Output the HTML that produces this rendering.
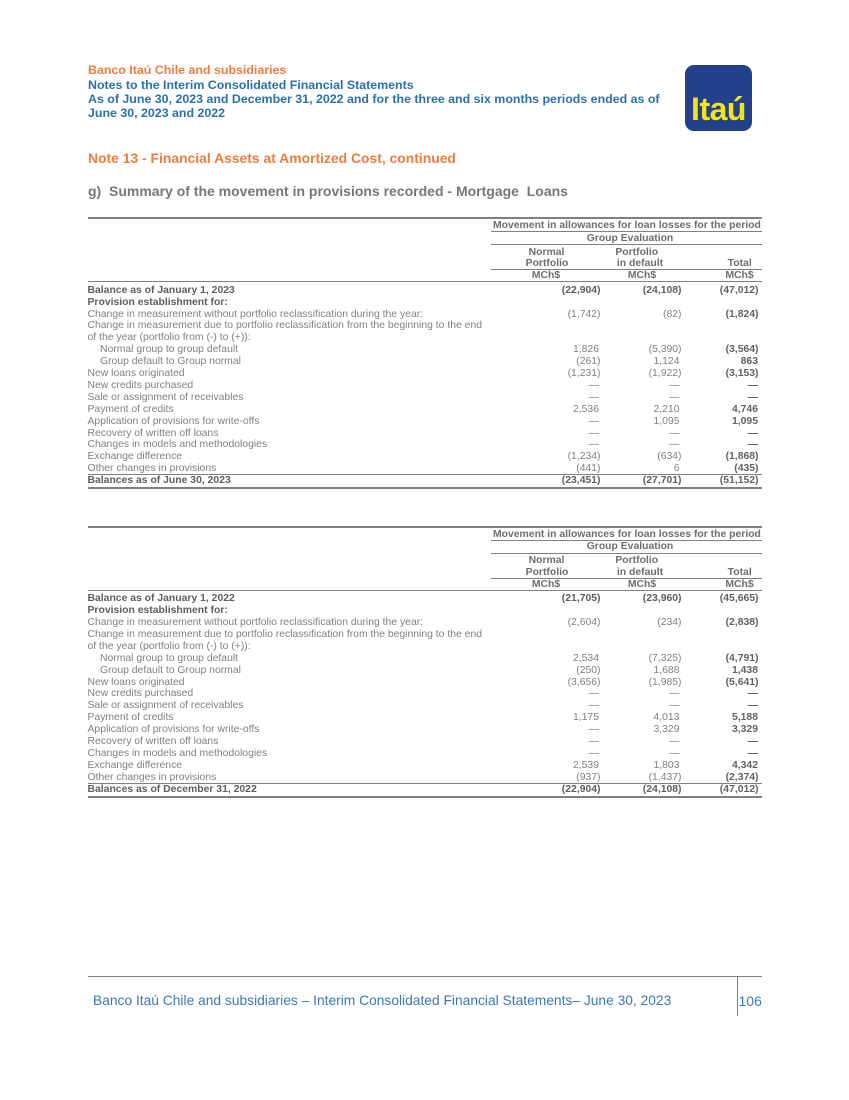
<!DOCTYPE html>
<html>
<head>
<meta charset="utf-8">
<style>
html,body{margin:0;padding:0;background:#fff;}
body{width:849px;height:1100px;position:relative;overflow:hidden;font-family:"Liberation Sans",Arial,sans-serif;}
.abs{position:absolute;white-space:pre;}
.hd{font-size:12.4px;line-height:14px;font-weight:bold;left:88px;}
.or{color:#ef7b3e;}
.bl{color:#2b70ae;}
.ln{position:absolute;background:#808080;}
.tbl{position:absolute;left:0;top:0;width:849px;height:280px;}
.th{position:absolute;font-size:10.4px;line-height:12px;font-weight:bold;color:#6e6e6e;white-space:nowrap;}
.ctr{width:120px;text-align:center;}
.r{position:absolute;left:0;width:849px;height:12px;line-height:12px;font-size:10.4px;color:#808080;white-space:pre;}
.r span{position:absolute;top:0;}
.r .l{left:87.5px;}
.r .li{left:100px;}
.r .a{right:248.5px;text-align:right;}
.r .ap{right:250px;text-align:right;}
.r .b{right:167.5px;text-align:right;}
.r .bp{right:169.5px;text-align:right;}
.r .c{right:90.5px;text-align:right;font-weight:bold;color:#626262;}
.r .cp{right:91px;text-align:right;font-weight:bold;color:#626262;}
.r.B{font-weight:bold;color:#5e5e5e;}
.r .lb{font-weight:bold;color:#5e5e5e;}
</style>
</head>
<body>

<!-- Header -->
<div class="abs hd or" style="top:63px;">Banco Itaú Chile and subsidiaries</div>
<div class="abs hd bl" style="top:77.5px;">Notes to the Interim Consolidated Financial Statements</div>
<div class="abs hd bl" style="top:91.8px;">As of June 30, 2023 and December 31, 2022 and for the three and six months periods ended as of</div>
<div class="abs hd bl" style="top:106px;">June 30, 2023 and 2022</div>

<!-- Logo -->
<div style="position:absolute;left:685px;top:65px;width:67px;height:66px;background:#22418a;border-radius:9px;"></div>
<div class="abs" style="left:685px;top:93px;width:67px;text-align:center;font-size:32px;line-height:32px;font-weight:bold;color:#f2e51c;letter-spacing:-0.5px;">Itaú</div>

<div class="abs" style="left:88px;top:150px;font-size:13.9px;line-height:16px;font-weight:bold;color:#ef7b3e;">Note 13 - Financial Assets at Amortized Cost, continued</div>
<div class="abs" style="left:88px;top:183px;font-size:14px;line-height:16px;font-weight:bold;color:#777777;">g)  Summary of the movement in provisions recorded - Mortgage  Loans</div>

<!-- TABLE 1 -->
<div class="tbl" style="top:218px;">
  <div class="ln" style="left:88px;top:-1px;width:674px;height:2px;"></div>
  <div class="th" style="left:493px;top:2px;">Movement in allowances for loan losses for the period</div>
  <div class="ln" style="left:491px;top:13px;width:271px;height:1px;"></div>
  <div class="th ctr" style="left:570px;top:14.7px;">Group Evaluation</div>
  <div class="ln" style="left:491px;top:26px;width:271px;height:1px;"></div>
  <div class="th ctr" style="left:486.5px;top:28.5px;">Normal</div>
  <div class="th ctr" style="left:576.7px;top:28.5px;">Portfolio</div>
  <div class="th ctr" style="left:487px;top:40.3px;">Portfolio</div>
  <div class="th ctr" style="left:580px;top:40.3px;">in default</div>
  <div class="th ctr" style="left:679.7px;top:40.3px;">Total</div>
  <div class="ln" style="left:491px;top:51px;width:271px;height:1px;"></div>
  <div class="th ctr" style="left:486px;top:52.3px;">MCh$</div>
  <div class="th ctr" style="left:582px;top:52.3px;">MCh$</div>
  <div class="th ctr" style="left:679.5px;top:52.3px;">MCh$</div>
  <div class="ln" style="left:88px;top:63px;width:674px;height:1px;"></div>

  <div class="r B" style="top:66.7px;"><span class="l">Balance as of January 1, 2023</span><span class="a">(22,904)</span><span class="b">(24,108)</span><span class="c">(47,012)</span></div>
  <div class="r" style="top:78.6px;"><span class="l lb">Provision establishment for:</span></div>
  <div class="r" style="top:90.5px;"><span class="l">Change in measurement without portfolio reclassification during the year:</span><span class="a">(1,742)</span><span class="b">(82)</span><span class="c">(1,824)</span></div>
  <div class="r" style="top:102.4px;"><span class="l">Change in measurement due to portfolio reclassification from the beginning to the end</span></div>
  <div class="r" style="top:114.3px;"><span class="l">of the year (portfolio from (-) to (+)):</span></div>
  <div class="r" style="top:126.2px;"><span class="li">Normal group to group default</span><span class="ap">1,826</span><span class="b">(5,390)</span><span class="c">(3,564)</span></div>
  <div class="r" style="top:138.1px;"><span class="li">Group default to Group normal</span><span class="a">(261)</span><span class="bp">1,124</span><span class="cp">863</span></div>
  <div class="r" style="top:150px;"><span class="l">New loans originated</span><span class="a">(1,231)</span><span class="b">(1,922)</span><span class="c">(3,153)</span></div>
  <div class="r" style="top:161.9px;"><span class="l">New credits purchased</span><span class="ap">—</span><span class="bp">—</span><span class="cp">—</span></div>
  <div class="r" style="top:173.8px;"><span class="l">Sale or assignment of receivables</span><span class="ap">—</span><span class="bp">—</span><span class="cp">—</span></div>
  <div class="r" style="top:185.7px;"><span class="l">Payment of credits</span><span class="ap">2,536</span><span class="bp">2,210</span><span class="cp">4,746</span></div>
  <div class="r" style="top:197.6px;"><span class="l">Application of provisions for write-offs</span><span class="ap">—</span><span class="bp">1,095</span><span class="cp">1,095</span></div>
  <div class="r" style="top:209.5px;"><span class="l">Recovery of written off loans</span><span class="ap">—</span><span class="bp">—</span><span class="cp">—</span></div>
  <div class="r" style="top:221.4px;"><span class="l">Changes in models and methodologies</span><span class="ap">—</span><span class="bp">—</span><span class="cp">—</span></div>
  <div class="r" style="top:233.3px;"><span class="l">Exchange difference</span><span class="a">(1,234)</span><span class="b">(634)</span><span class="c">(1,868)</span></div>
  <div class="r" style="top:245.2px;"><span class="l">Other changes in provisions</span><span class="a">(441)</span><span class="bp">6</span><span class="c">(435)</span></div>
  <div class="ln" style="left:88px;top:256px;width:674px;height:1px;"></div>
  <div class="r B" style="top:257.1px;"><span class="l">Balances as of June 30, 2023</span><span class="a">(23,451)</span><span class="b">(27,701)</span><span class="c">(51,152)</span></div>
  <div class="ln" style="left:88px;top:269px;width:674px;height:2px;"></div>
</div>

<!-- TABLE 2 -->
<div class="tbl" style="top:526.5px;">
  <div class="ln" style="left:88px;top:-1px;width:674px;height:2px;"></div>
  <div class="th" style="left:493px;top:2px;">Movement in allowances for loan losses for the period</div>
  <div class="ln" style="left:491px;top:13px;width:271px;height:1px;"></div>
  <div class="th ctr" style="left:570px;top:14.7px;">Group Evaluation</div>
  <div class="ln" style="left:491px;top:26px;width:271px;height:1px;"></div>
  <div class="th ctr" style="left:486.5px;top:28.5px;">Normal</div>
  <div class="th ctr" style="left:576.7px;top:28.5px;">Portfolio</div>
  <div class="th ctr" style="left:487px;top:40.3px;">Portfolio</div>
  <div class="th ctr" style="left:580px;top:40.3px;">in default</div>
  <div class="th ctr" style="left:679.7px;top:40.3px;">Total</div>
  <div class="ln" style="left:491px;top:51px;width:271px;height:1px;"></div>
  <div class="th ctr" style="left:486px;top:52.3px;">MCh$</div>
  <div class="th ctr" style="left:582px;top:52.3px;">MCh$</div>
  <div class="th ctr" style="left:679.5px;top:52.3px;">MCh$</div>
  <div class="ln" style="left:88px;top:63px;width:674px;height:1px;"></div>

  <div class="r B" style="top:66.7px;"><span class="l">Balance as of January 1, 2022</span><span class="a">(21,705)</span><span class="b">(23,960)</span><span class="c">(45,665)</span></div>
  <div class="r" style="top:78.6px;"><span class="l lb">Provision establishment for:</span></div>
  <div class="r" style="top:90.5px;"><span class="l">Change in measurement without portfolio reclassification during the year:</span><span class="a">(2,604)</span><span class="b">(234)</span><span class="c">(2,838)</span></div>
  <div class="r" style="top:102.4px;"><span class="l">Change in measurement due to portfolio reclassification from the beginning to the end</span></div>
  <div class="r" style="top:114.3px;"><span class="l">of the year (portfolio from (-) to (+)):</span></div>
  <div class="r" style="top:126.2px;"><span class="li">Normal group to group default</span><span class="ap">2,534</span><span class="b">(7,325)</span><span class="c">(4,791)</span></div>
  <div class="r" style="top:138.1px;"><span class="li">Group default to Group normal</span><span class="a">(250)</span><span class="bp">1,688</span><span class="cp">1,438</span></div>
  <div class="r" style="top:150px;"><span class="l">New loans originated</span><span class="a">(3,656)</span><span class="b">(1,985)</span><span class="c">(5,641)</span></div>
  <div class="r" style="top:161.9px;"><span class="l">New credits purchased</span><span class="ap">—</span><span class="bp">—</span><span class="cp">—</span></div>
  <div class="r" style="top:173.8px;"><span class="l">Sale or assignment of receivables</span><span class="ap">—</span><span class="bp">—</span><span class="cp">—</span></div>
  <div class="r" style="top:185.7px;"><span class="l">Payment of credits</span><span class="ap">1,175</span><span class="bp">4,013</span><span class="cp">5,188</span></div>
  <div class="r" style="top:197.6px;"><span class="l">Application of provisions for write-offs</span><span class="ap">—</span><span class="bp">3,329</span><span class="cp">3,329</span></div>
  <div class="r" style="top:209.5px;"><span class="l">Recovery of written off loans</span><span class="ap">—</span><span class="bp">—</span><span class="cp">—</span></div>
  <div class="r" style="top:221.4px;"><span class="l">Changes in models and methodologies</span><span class="ap">—</span><span class="bp">—</span><span class="cp">—</span></div>
  <div class="r" style="top:233.3px;"><span class="l">Exchange difference</span><span class="ap">2,539</span><span class="bp">1,803</span><span class="cp">4,342</span></div>
  <div class="r" style="top:245.2px;"><span class="l">Other changes in provisions</span><span class="a">(937)</span><span class="b">(1,437)</span><span class="c">(2,374)</span></div>
  <div class="ln" style="left:88px;top:256px;width:674px;height:1px;"></div>
  <div class="r B" style="top:257.1px;"><span class="l">Balances as of December 31, 2022</span><span class="a">(22,904)</span><span class="b">(24,108)</span><span class="c">(47,012)</span></div>
  <div class="ln" style="left:88px;top:269px;width:674px;height:2px;"></div>
</div>

<!-- Footer -->
<div class="ln" style="left:88px;top:976px;width:674px;height:1px;"></div>
<div class="ln" style="left:737px;top:976px;width:1px;height:40px;"></div>
<div class="abs" style="left:93px;top:993.2px;font-size:13.8px;line-height:16px;color:#3a78b5;">Banco Itaú Chile and subsidiaries – Interim Consolidated Financial Statements– June 30, 2023</div>
<div class="abs" style="left:738.5px;top:993px;font-size:14px;line-height:16px;color:#3a78b5;">106</div>

</body>
</html>
